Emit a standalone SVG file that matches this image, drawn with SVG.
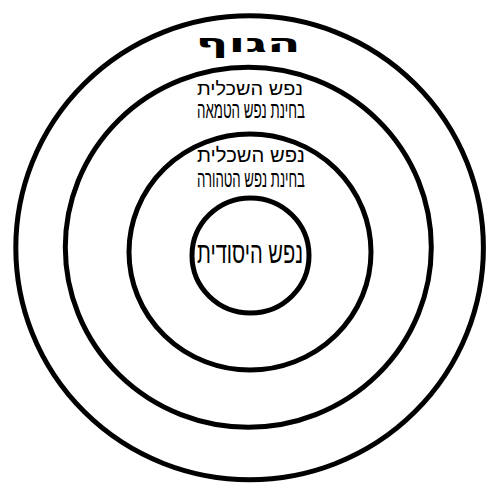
<svg xmlns="http://www.w3.org/2000/svg" width="500" height="496" viewBox="0 0 500 496">
<style>
.ring{fill:none;stroke:#000;stroke-width:5}
.t{font-family:"Liberation Sans","DejaVu Sans",sans-serif;fill:#000;text-anchor:middle}
.title{font-family:"DejaVu Sans","Liberation Sans",sans-serif;font-weight:bold;fill:#000;text-anchor:middle}
</style>
<rect width="500" height="496" fill="#fff"/>
<g id="body">
<ellipse class="ring" cx="249.6" cy="247.8" rx="233.8" ry="232"/>
<text class="title" x="248" y="52" font-size="25" textLength="105" lengthAdjust="spacingAndGlyphs">הגוף</text>
</g>
<g id="impure">
<ellipse class="ring" cx="248.3" cy="247.3" rx="183" ry="180"/>
<text class="t" x="250" y="95" font-size="19" textLength="106" lengthAdjust="spacingAndGlyphs">נפש השכלית</text>
<text class="t" x="251" y="118" font-size="24" textLength="108" lengthAdjust="spacingAndGlyphs">בחינת נפש הטמאה</text>
</g>
<g id="pure">
<ellipse class="ring" cx="250" cy="252" rx="121" ry="118"/>
<text class="t" x="251" y="162" font-size="20" textLength="108" lengthAdjust="spacingAndGlyphs">נפש השכלית</text>
<text class="t" x="251" y="187" font-size="24" textLength="108" lengthAdjust="spacingAndGlyphs">בחינת נפש הטהורה</text>
</g>
<g id="core">
<ellipse class="ring" cx="250.5" cy="255.5" rx="58.5" ry="57.5"/>
<text class="t" x="250" y="263" font-size="30" textLength="106" lengthAdjust="spacingAndGlyphs">נפש היסודית</text>
</g>
<g id="connectors"/>
</svg>
